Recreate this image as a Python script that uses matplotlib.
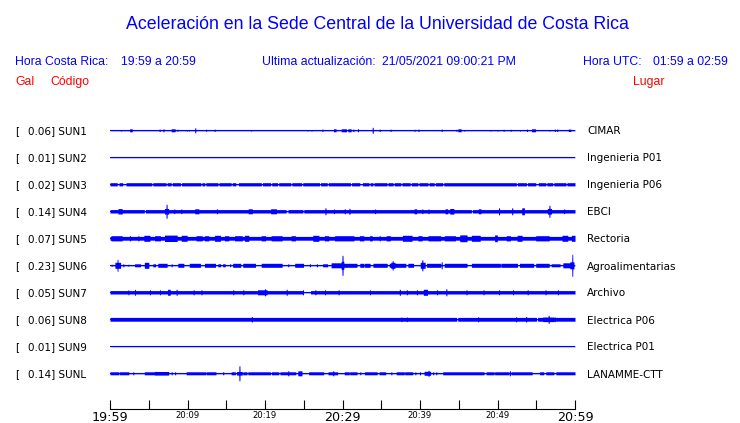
import numpy as np
import matplotlib
matplotlib.use("Agg")
import matplotlib.pyplot as plt
from matplotlib import transforms

# Aceleracion en la Sede Central - registro de 19:59 a 20:59 (minutos desde 19:59)
codes = ['SUN1', 'SUN2', 'SUN3', 'SUN4', 'SUN5', 'SUN6', 'SUN7', 'SUN8', 'SUN9', 'SUNL']
peak_gal = [0.06, 0.01, 0.02, 0.14, 0.07, 0.23, 0.05, 0.06, 0.01, 0.14]
places = ['CIMAR', 'Ingenieria P01', 'Ingenieria P06', 'EBCI', 'Rectoria',
          'Agroalimentarias', 'Archivo', 'Electrica P06', 'Electrica P01', 'LANAMME-CTT']

# half height of the quiet trace (screen px)
base_amp = [0.5, 0.4, 1.6, 1.7, 1.9, 0.5, 1.7, 1.9, 0.4, 0.5]

# bursts: (start min, end min, half height px)
sun1_bursts = [(1.4, 1.4, 0.8), (2.6, 2.8, 1.5), (6.4, 6.4, 1.2), (6.9, 6.9, 1.5), (7.95, 8.35, 1.5),
               (8.7, 8.7, 1.0), (9.9, 9.9, 0.8), (10.2, 10.2, 0.8), (11.0, 11.0, 2.5), (12.4, 12.4, 1.0),
               (13.5, 13.5, 1.2), (18.2, 18.2, 0.8), (25.5, 25.5, 0.8), (26.0, 26.0, 0.8), (27.4, 27.4, 1.2),
               (28.9, 29.1, 1.5), (29.9, 30.45, 1.5), (30.75, 31.05, 1.5), (31.4, 31.4, 1.2), (32.0, 32.0, 1.5),
               (33.9, 33.9, 3.0), (34.8, 34.8, 1.2), (36.2, 36.2, 1.2), (39.3, 39.3, 1.0), (39.8, 39.8, 1.2),
               (42.8, 42.8, 1.2), (44.7, 44.7, 1.0), (44.95, 45.25, 1.5), (45.7, 45.7, 0.8), (49.1, 49.1, 0.8),
               (50.0, 50.0, 0.8), (50.8, 50.8, 1.0), (51.7, 51.7, 1.0), (52.9, 52.9, 0.8), (53.8, 53.8, 1.2),
               (54.45, 54.85, 1.5), (56.7, 56.7, 0.8), (57.4, 57.4, 1.2), (57.7, 57.7, 1.2), (59.2, 59.4, 1.2)]
sun2_bursts = []
sun3_bursts = []
sun4_bursts = [(1.1, 1.5, 2.7), (7.1, 7.5, 2.8), (7.3, 7.3, 7.0), (8.3, 8.3, 2.3), (9.2, 9.2, 2.3),
               (11.0, 11.4, 2.5), (13.8, 13.8, 2.5), (17.9, 18.3, 2.5), (20.8, 21.4, 2.5), (27.8, 27.8, 3.5),
               (28.9, 28.9, 2.3), (30.3, 30.3, 2.5), (30.9, 30.9, 3.0), (34.2, 34.2, 2.3), (39.3, 39.5, 2.5),
               (40.3, 40.3, 2.3), (41.1, 41.1, 2.3), (43.3, 43.5, 2.5), (43.9, 44.3, 2.8), (47.6, 47.8, 2.5),
               (50.2, 50.2, 3.5), (51.9, 51.9, 3.5), (53.2, 53.4, 3.5), (56.5, 56.9, 2.8), (56.7, 56.7, 6.0),
               (58.6, 58.6, 2.3)]
sun5_bursts = [(0.2, 1.5, 2.6), (2.58, 2.58, 2.6), (3.66, 3.66, 2.6), (4.43, 5.08, 3.0), (5.81, 6.45, 2.6),
               (7.1, 8.6, 3.2), (9.25, 9.89, 3.0), (11.18, 11.83, 2.6), (12.26, 12.69, 2.6), (13.55, 14.19, 3.0),
               (14.84, 15.27, 2.6), (16.13, 17.0, 2.6), (17.42, 17.85, 3.0), (19.57, 20.0, 2.6), (20.86, 22.15, 2.6),
               (23.44, 23.87, 2.6), (26.24, 26.88, 3.0), (27.74, 28.17, 2.6), (29.03, 31.4, 2.6), (32.26, 32.69, 2.6),
               (33.55, 33.76, 2.6), (34.8, 34.8, 2.6), (35.7, 36.1, 2.6), (37.8, 38.9, 3.0), (39.8, 40.2, 2.6),
               (41.1, 42.6, 2.6), (43.2, 44.5, 2.6), (45.2, 46.0, 3.4), (46.7, 47.7, 3.0), (49.7, 49.9, 3.4),
               (51.2, 51.6, 2.6), (52.6, 53.1, 3.0), (55.0, 56.6, 2.6), (58.4, 59.0, 3.0), (59.6, 60.0, 3.0)]
sun6_bursts = [(0.22, 0.22, 1.0), (0.7, 1.3, 3.0), (0.97, 0.97, 6.0), (1.72, 1.72, 1.5), (2.37, 2.37, 1.0),
               (3.23, 3.87, 1.5), (4.5, 4.95, 3.0), (5.59, 5.81, 1.5), (6.24, 7.31, 2.0), (7.96, 7.96, 1.5),
               (8.82, 9.46, 2.0), (10.3, 11.6, 2.0), (12.26, 13.55, 2.0), (13.98, 14.2, 1.5), (14.6, 14.8, 1.5),
               (15.5, 15.5, 1.5), (15.9, 16.8, 2.0), (17.2, 18.7, 2.0), (19.57, 22.15, 2.0), (23.0, 23.0, 1.5),
               (23.9, 24.9, 2.0), (25.8, 25.8, 1.5), (26.7, 26.7, 1.5), (27.5, 28.0, 1.5), (28.6, 29.9, 2.5),
               (29.9, 30.1, 4.0), (30.0, 30.0, 10.0), (30.1, 31.8, 2.0), (32.3, 32.7, 2.0), (32.9, 33.5, 2.0),
               (34.0, 35.7, 2.0), (36.1, 36.8, 2.0), (36.3, 36.7, 3.0), (36.47, 36.47, 4.7), (36.8, 38.1, 2.0),
               (38.5, 39.1, 2.0), (40.1, 40.6, 3.0), (40.3, 40.3, 5.5), (40.9, 42.6, 2.0), (42.8, 42.8, 3.5),
               (43.2, 46.0, 2.0), (46.7, 50.3, 2.0), (50.5, 52.5, 2.0), (52.9, 54.6, 2.0), (55.0, 56.6, 2.0),
               (57.0, 58.0, 1.5), (58.5, 59.3, 2.5), (59.4, 59.8, 3.5), (59.65, 59.65, 11.0)]
sun7_bursts = [(2.37, 2.37, 2.5), (3.23, 3.23, 3.0), (5.16, 5.16, 2.5), (6.45, 6.45, 2.5), (7.5, 7.7, 3.0),
               (8.6, 8.6, 3.0), (10.8, 10.8, 2.5), (11.8, 11.8, 2.5), (15.9, 15.9, 2.5), (17.2, 17.2, 2.5),
               (19.1, 20.2, 2.5), (20.0, 20.0, 3.5), (22.8, 22.8, 3.0), (24.9, 24.9, 2.5), (26.5, 26.5, 2.5),
               (27.74, 27.74, 2.5), (29.5, 29.5, 2.5), (33.55, 33.55, 2.5), (37.4, 37.4, 3.0), (38.3, 38.3, 2.5),
               (39.6, 39.6, 2.5), (40.5, 40.9, 3.0), (42.2, 42.2, 2.5), (43.4, 43.4, 3.5), (46.0, 46.0, 2.5),
               (48.2, 48.2, 2.5), (50.2, 50.2, 2.5), (52.0, 52.0, 2.5), (53.9, 53.9, 2.5), (56.2, 56.2, 2.5),
               (57.8, 57.8, 2.5)]
sun8_bursts = [(18.3, 18.3, 2.7), (37.6, 37.6, 2.3), (38.3, 38.3, 2.3), (47.5, 47.5, 2.5), (52.4, 52.4, 2.5),
               (53.7, 53.7, 2.7), (55.9, 57.2, 2.3), (56.6, 56.6, 4.0), (57.4, 57.4, 2.3)]
sun9_bursts = []
sunl_bursts = [(0.0, 1.08, 1.5), (1.29, 2.37, 1.5), (3.0, 3.0, 1.5), (4.5, 5.8, 1.5), (5.8, 7.5, 1.8),
               (7.96, 7.96, 1.5), (8.4, 8.4, 1.5), (9.9, 12.3, 1.5), (12.5, 13.6, 1.5), (14.6, 14.6, 1.5),
               (15.7, 16.1, 1.5), (16.4, 17.0, 1.8), (16.7, 16.7, 7.5), (17.2, 17.6, 1.5), (17.85, 19.0, 1.5),
               (19.1, 20.65, 1.5), (20.9, 21.7, 1.5), (22.0, 23.9, 1.5), (23.0, 23.0, 2.5), (24.3, 24.7, 2.5),
               (25.7, 27.5, 1.5), (28.2, 29.3, 1.5), (28.8, 28.8, 2.5), (30.3, 30.8, 1.5), (31.0, 31.8, 1.5),
               (32.3, 32.3, 1.5), (32.9, 34.4, 1.5), (34.8, 35.5, 1.5), (36.3, 36.3, 1.5), (37.0, 37.9, 1.5),
               (38.1, 39.0, 1.5), (39.4, 39.4, 1.5), (40.0, 40.0, 1.5), (40.6, 41.3, 2.0), (41.1, 41.1, 3.0),
               (41.7, 41.7, 1.5), (42.1, 42.1, 1.5), (43.0, 48.2, 1.5), (48.6, 49.5, 1.5), (49.7, 51.4, 1.5),
               (51.6, 51.6, 2.5), (51.8, 54.4, 1.5), (55.5, 55.9, 1.5), (56.3, 57.2, 1.5), (57.6, 60.0, 1.5)]

# quiet gaps inside the thick traces: (start min, end min)
sun3_gaps = [(1.0, 1.1), (1.7, 2.0), (5.46, 5.46), (7.3, 7.3), (7.96, 7.96), (9.16, 9.16), (11.8, 11.8),
             (12.3, 12.3), (14.0, 14.0), (15.7, 15.7), (16.3, 16.5), (19.6, 19.6), (20.8, 20.8), (21.7, 21.7),
             (23.4, 23.4), (24.8, 24.8), (27.1, 27.1), (28.1, 28.1), (31.1, 31.1), (32.3, 32.5), (33.5, 33.5),
             (34.0, 34.0), (35.8, 35.8), (36.6, 36.6), (37.6, 37.6), (38.8, 38.8), (39.8, 39.8), (41.1, 41.1),
             (41.9, 41.9), (43.0, 43.0), (52.5, 52.5), (53.8, 53.8), (55.0, 55.2), (56.3, 56.3), (57.2, 57.2),
             (58.9, 58.9)]
sun4_gaps = [(4.5, 4.5), (22.8, 22.9), (24.95, 24.95), (46.7, 46.7)]
sun7_gaps = [(25.0, 25.8)]
sun8_gaps = [(44.8, 44.8), (55.1, 55.1)]

time_ticks = [0, 5, 10, 15, 20, 25, 30, 35, 40, 45, 50, 55, 60]
time_labels = ['19:59', '', '20:09', '', '20:19', '', '20:29', '', '20:39', '', '20:49', '', '20:59']
big_labels = ['19:59', '20:29', '20:59']

all_bursts = [sun1_bursts, sun2_bursts, sun3_bursts, sun4_bursts, sun5_bursts,
              sun6_bursts, sun7_bursts, sun8_bursts, sun9_bursts, sunl_bursts]
all_gaps = [[], [], sun3_gaps, sun4_gaps, [], [], sun7_gaps, sun8_gaps, [], []]

BLUE = '#0000ff'
RED = '#ff0000'
W, H = 740, 423
ROW_PX = 27.0
HDR = 'Liberation Sans'


def fx(x):
    return x / W


def fy(y):
    return 1 - y / H


fig = plt.figure(figsize=(W / 100, H / 100), dpi=100)
fig.patch.set_facecolor('white')

# traces axes: x 110..575 px, rows start at y=130.3 with 27 px spacing
top_px, bot_px = 100.0, 409.0
ax = fig.add_axes([fx(110), fy(bot_px), fx(575) - fx(110), (bot_px - top_px) / H])
ax.set_xlim(0, 60)
ax.set_ylim((bot_px - 130.3) / ROW_PX, (top_px - 130.3) / ROW_PX)

t = np.arange(0, 60.0001, 0.02)
hw = 0.065
for i in range(len(codes)):
    env = np.full(t.size, base_amp[i])
    for g0, g1 in all_gaps[i]:
        env[(t >= g0 - hw) & (t <= g1 + hw)] = 0.5
    for b0, b1, a in all_bursts[i]:
        m = (t >= b0 - hw) & (t <= b1 + hw)
        env[m] = np.maximum(env[m], a)
    ax.fill_between(t, i - env / ROW_PX, i + env / ROW_PX, color=BLUE, lw=0)
    ax.plot([0, 60], [i, i], color=BLUE, lw=0.8)

for s in ['top', 'left', 'right']:
    ax.spines[s].set_visible(False)
ax.spines['bottom'].set_linewidth(0.8)
ax.set_yticks([])
ax.set_xticks(time_ticks)
ax.set_xticklabels(time_labels)
ax.tick_params(axis='x', direction='in', length=6.5, width=0.8, pad=1.5, colors='black')
for lab in ax.get_xticklabels():
    lab.set_fontfamily('DejaVu Sans')
    lab.set_fontsize(9.2 if lab.get_text() in big_labels else 6.1)

# station labels
trans = transforms.blended_transform_factory(fig.transFigure, ax.transData)
off = 4.2 / ROW_PX
for i in range(len(codes)):
    ax.text(fx(15), i + off, '[', transform=trans, va='baseline', ha='left',
            fontsize=7.5, family='DejaVu Sans', color='black')
    ax.text(fx(28), i + off, f'{peak_gal[i]:.2f}] {codes[i]}', transform=trans, va='baseline',
            ha='left', fontsize=7.5, family='DejaVu Sans', color='black')
    ax.text(fx(587), i + off, places[i], transform=trans, va='baseline', ha='left',
            fontsize=7.5, family='DejaVu Sans', color='black')

# header
fig.text(fx(377), fy(29.3), 'Aceleración en la Sede Central de la Universidad de Costa Rica',
         ha='center', va='baseline', fontsize=12.8, family=HDR, color=BLUE)
hdr_items = [(15, 'Hora Costa Rica:'), (120.7, '19:59 a 20:59'), (261.6, 'Ultima actualización:'),
             (381.5, '21/05/2021 09:00:21 PM'), (583, 'Hora UTC:'), (653, '01:59 a 02:59')]
for x, s in hdr_items:
    fig.text(fx(x), fy(65.3), s, ha='left', va='baseline', fontsize=8.8, family=HDR, color=BLUE)
for x, s in [(15, 'Gal'), (50, 'Código'), (633.5, 'Lugar')]:
    fig.text(fx(x), fy(85.3), s, ha='left', va='baseline', fontsize=8.8, family=HDR, color=RED)

fig.savefig('out.png', dpi=100)
